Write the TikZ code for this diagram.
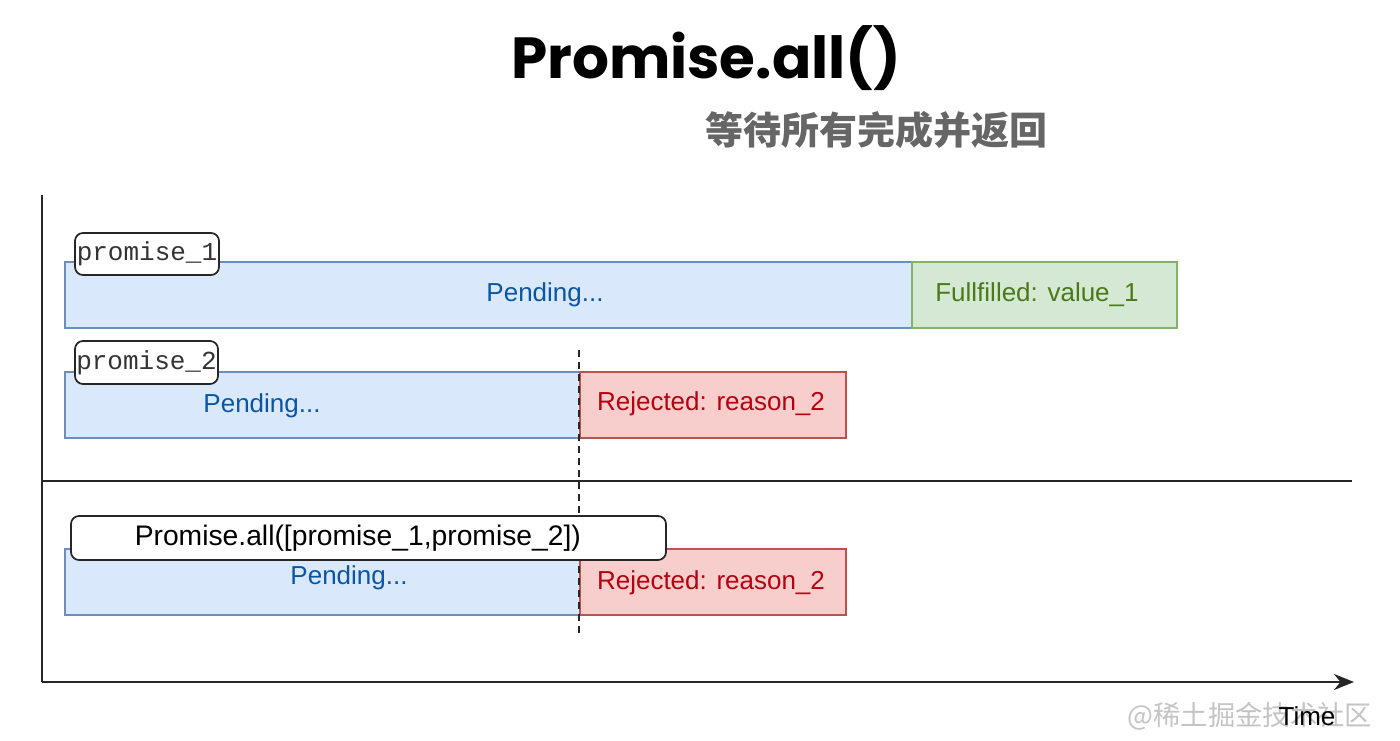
\documentclass[tikz,border=0pt]{standalone}
\usepackage{fontspec}
\setmainfont{Liberation Sans}
\setmonofont{Liberation Mono}
\newfontfamily\titlefont{Poppins}
\newfontfamily\cjk{Noto Sans CJK SC}
\usetikzlibrary{arrows.meta}
\definecolor{pendfill}{HTML}{DAE8FC}
\definecolor{penddraw}{HTML}{6C8EBF}
\definecolor{pendtext}{HTML}{0A56A4}
\definecolor{okfill}{HTML}{D5E8D4}
\definecolor{okdraw}{HTML}{82B366}
\definecolor{oktext}{HTML}{4A7A18}
\definecolor{rejfill}{HTML}{F8CECC}
\definecolor{rejdraw}{HTML}{B85450}
\definecolor{rejtext}{HTML}{B50010}
\definecolor{subgray}{HTML}{666666}
\definecolor{wmgray}{HTML}{C4C4C4}
\tikzset{
  bar/.style={draw, line width=1.2pt, anchor=north west, minimum height=66*0.75pt, inner sep=0pt},
  pendbar/.style={bar, fill=pendfill, draw=penddraw},
  okbar/.style={bar, fill=okfill, draw=okdraw},
  rejbar/.style={bar, fill=rejfill, draw=rejdraw},
  lbl/.style={font=\fontsize{19.5}{22}\selectfont, inner sep=0pt},
  tagbox/.style={draw=black!85, fill=white, line width=1.3pt, rounded corners=6pt, inner sep=0pt, anchor=center},
  axis/.style={line width=1.6pt, black!85},
}
\begin{document}
\begin{tikzpicture}[x=0.75pt, y=-0.75pt]
\useasboundingbox[fill=white] (0,0) rectangle (1400,740);
% title
\node[anchor=base, font=\titlefont\bfseries\fontsize{43.5}{48}\selectfont, inner sep=0pt] (title) at (706,78) {Promise.all()};
\node[anchor=center, font=\cjk\bfseries\fontsize{28.5}{32}\selectfont, text=subgray, inner sep=0pt] (sub) at (876,130) {等待所有完成并返回};
% axes
\coordinate (origin) at (42,682);
\coordinate (ytop) at (42,195);
\coordinate (xend) at (1354,682);
\coordinate (sepL) at (42,481);
\coordinate (sepR) at (1352,481);
\draw[axis] (ytop) -- (origin);
\draw[axis, -{Stealth[length=20*0.75pt, width=16*0.75pt]}] (origin) -- (xend);
\draw[axis] (sepL) -- (sepR);
% row 1
\node[pendbar, minimum width=847*0.75pt] (r1p) at (64,261) {};
\node[okbar, minimum width=265*0.75pt] (r1f) at (911,261) {};
\node[lbl, text=pendtext] (t1p) at (545,295) {Pending...};
\node[lbl, text=oktext] (t1f) at (1037,295) {Fullfilled: value\_1};
\node[tagbox, minimum width=144*0.75pt, minimum height=42*0.75pt, font=\ttfamily\fontsize{19.5}{22}\selectfont, text=black!80] (p1) at (147,254) {promise\_1};
% row 2
\node[pendbar, minimum width=515*0.75pt] (r2p) at (64,371) {};
\node[rejbar, minimum width=266*0.75pt] (r2r) at (579,371) {};
\node[lbl, text=pendtext] (t2p) at (262,406) {Pending...};
\node[lbl, text=rejtext] (t2r) at (711,404) {Rejected: reason\_2};
\node[tagbox, minimum width=143*0.75pt, minimum height=43*0.75pt, font=\ttfamily\fontsize{19.5}{22}\selectfont, text=black!80] (p2) at (146.5,362.5) {promise\_2};
% row 3
\node[pendbar, minimum width=515*0.75pt] (r3p) at (64,548) {};
\node[rejbar, minimum width=266*0.75pt] (r3r) at (579,548) {};
\node[lbl, text=pendtext] (t3p) at (349,578) {Pending...};
\node[lbl, text=rejtext] (t3r) at (711,583) {Rejected: reason\_2};
% dashed marker
\coordinate (dtop) at (579,350);
\coordinate (dbot) at (579,637);
\draw[line width=1.3pt, black!85, dash pattern=on 5pt off 4pt] (dtop) -- (dbot);
\node[tagbox, minimum width=595*0.75pt, minimum height=44*0.75pt, font=\fontsize{21.2}{24}\selectfont] (pall) at (368.5,538) {Promise.all([promise\_1,promise\_2])\hspace*{16pt}};
% watermark and time label
\node[anchor=center, font=\cjk\fontsize{20.5}{24}\selectfont, text=wmgray, inner sep=0pt] (wm) at (1250,716) {@稀土掘金技术社区};
\node[lbl, text=black] (time) at (1307,716) {Time};
\end{tikzpicture}
\end{document}
